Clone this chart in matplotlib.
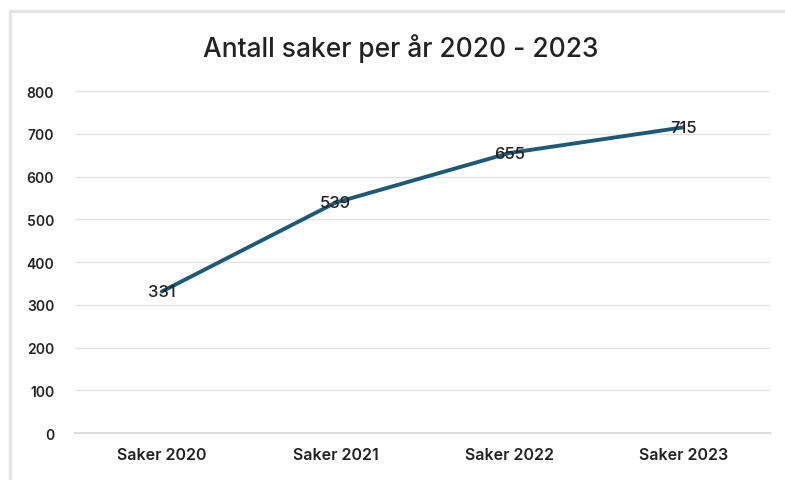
import matplotlib
matplotlib.use('Agg')
import matplotlib.pyplot as plt
from matplotlib.patches import Rectangle

categories = ['Saker 2020', 'Saker 2021', 'Saker 2022', 'Saker 2023']
values = [331, 539, 655, 715]
y_ticks = [0, 100, 200, 300, 400, 500, 600, 700, 800]

plt.rcParams['font.family'] = ['Inter', 'DejaVu Sans']

fig = plt.figure(figsize=(7.85, 4.81), dpi=100)
fig.patch.set_facecolor('white')
# light frame of the chart area
fig.patches.append(Rectangle((0.013, -0.01), 1.0, 0.985, transform=fig.transFigure,
                             fill=False, edgecolor='#e6e6e6', linewidth=2.5))

ax = fig.add_axes([0.0955, 0.0977, 0.8855, 0.711])
x = list(range(len(categories)))
ax.plot(x, values, color='#1d5a78', linewidth=2.8, solid_capstyle='round')
for xi, v in zip(x, values):
    ax.text(xi, v, str(v), ha='center', va='center', fontsize=12,
            fontweight='medium', color='#222222')

ax.set_xlim(-0.5, len(categories) - 0.5)
ax.set_ylim(0, 800)
ax.set_yticks(y_ticks)
ax.set_xticks(x)
ax.set_xticklabels(categories)
ax.tick_params(axis='both', length=0, colors='#222222')
ax.tick_params(axis='y', pad=15, labelsize=10)
ax.tick_params(axis='x', pad=10, labelsize=11.5)
for lbl in ax.get_xticklabels() + ax.get_yticklabels():
    lbl.set_fontweight('semibold')
ax.grid(axis='y', color='#e3e3e3', linewidth=1)
ax.set_axisbelow(True)
for s in ['top', 'right', 'left']:
    ax.spines[s].set_visible(False)
ax.spines['bottom'].set_color('#dcdcdc')
ax.spines['bottom'].set_linewidth(1.5)

fig.text(0.51, 0.9, 'Antall saker per år 2020 - 2023', ha='center', va='center',
         fontsize=19, fontweight='medium', color='#222222')

fig.savefig('out.png', dpi=100)
